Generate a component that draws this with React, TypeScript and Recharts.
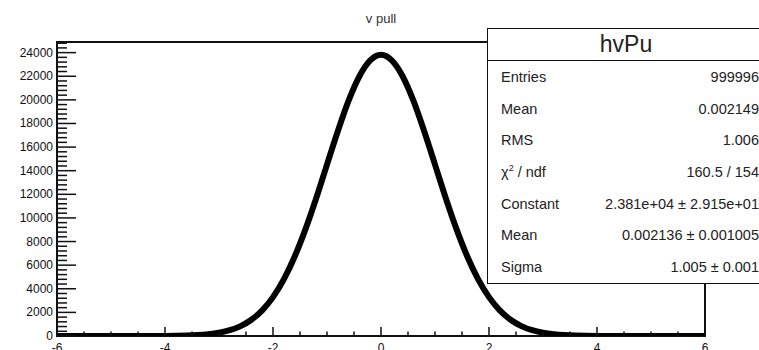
import { Line, LineChart, ReferenceArea, XAxis, YAxis } from "recharts";

// pull histogram, bin centres and counts
const pullX = [
  -6.0, -5.8, -5.6, -5.4, -5.2, -5.0, -4.8, -4.6, -4.4, -4.2, -4.0, -3.8, -3.6, -3.4, -3.2, -3.0,
  -2.8, -2.6, -2.4, -2.2, -2.0, -1.8, -1.6, -1.4, -1.2, -1.0, -0.8, -0.6, -0.4, -0.2, 0.0, 0.2,
  0.4, 0.6, 0.8, 1.0, 1.2, 1.4, 1.6, 1.8, 2.0, 2.2, 2.4, 2.6, 2.8, 3.0, 3.2, 3.4, 3.6, 3.8, 4.0,
  4.2, 4.4, 4.6, 4.8, 5.0, 5.2, 5.4, 5.6, 5.8, 6.0,
];
const pullCounts = [
  0, 0, 0, 0, 0, 0, 0, 1, 2, 4, 9, 19, 39, 78, 150, 276,
  490, 840, 1380, 2170, 3290, 4790, 6710, 9030, 11670, 14520, 17340, 19930, 22000, 23340, 23810, 23340,
  22000, 19930, 17340, 14520, 11670, 9030, 6710, 4790, 3290, 2170, 1380, 840, 490, 276, 150, 78, 39, 19, 9,
  4, 2, 1, 0, 0, 0, 0, 0, 0, 0,
];

const xMajor = [-6, -4, -2, 0, 2, 4, 6];
const xMinor = [-5.5, -5, -4.5, -3.5, -3, -2.5, -1.5, -1, -0.5, 0.5, 1, 1.5, 2.5, 3, 3.5, 4.5, 5, 5.5];
const yMajor = [0, 2000, 4000, 6000, 8000, 10000, 12000, 14000, 16000, 18000, 20000, 22000, 24000];
const yMinor = [
  400, 800, 1200, 1600, 2400, 2800, 3200, 3600, 4400, 4800, 5200, 5600, 6400, 6800, 7200, 7600,
  8400, 8800, 9200, 9600, 10400, 10800, 11200, 11600, 12400, 12800, 13200, 13600, 14400, 14800,
  15200, 15600, 16400, 16800, 17200, 17600, 18400, 18800, 19200, 19600, 20400, 20800, 21200,
  21600, 22400, 22800, 23200, 23600, 24400, 24800,
];

const statsTitle = "hvPu";
const statsRows: [string, string][] = [
  ["Entries", "999996"],
  ["Mean", "0.002149"],
  ["RMS", "1.006"],
  ["chi2", "160.5 / 154"],
  ["Constant", "2.381e+04 \u00b1 2.915e+01"],
  ["Mean", "0.002136 \u00b1 0.001005"],
  ["Sigma", "1.005 \u00b1 0.001"],
];

const data = pullX.map((x, i) => ({ x, n: pullCounts[i] }));

const FONT = '"Liberation Sans", Arial, Helvetica, sans-serif';
const INK = "#111";
const Y_TOP = 24900;

// ticks point into the frame, as in a ROOT pad; the minor axes sit 1px outside the major ones
const XMajorTick = (p: any) => (
  <g>
    <line x1={p.x} x2={p.x} y1={p.y} y2={p.y - 9} stroke={INK} strokeWidth={1.5} />
    <text x={p.x} y={p.y + 16} textAnchor="middle" fontSize={12} fontFamily={FONT} fill={INK}>
      {p.payload.value}
    </text>
  </g>
);
const XMinorTick = (p: any) => (
  <line x1={p.x} x2={p.x} y1={p.y - 1} y2={p.y - 5.5} stroke={INK} strokeWidth={1.5} />
);
const YMajorTick = (p: any) => (
  <g>
    <line x1={p.x} x2={p.x + 19} y1={p.y} y2={p.y} stroke={INK} strokeWidth={1.5} />
    <text x={p.x - 4} y={p.y + 4} textAnchor="end" fontSize={12} fontFamily={FONT} fill={INK}>
      {p.payload.value}
    </text>
  </g>
);
const YMinorTick = (p: any) => (
  <line x1={p.x + 1} x2={p.x + 11} y1={p.y} y2={p.y} stroke={INK} strokeWidth={1.5} />
);

function StatsBox() {
  return (
    <div
      style={{
        position: "absolute",
        left: 487,
        top: 28,
        width: 290,
        background: "#fff",
        border: `1.5px solid ${INK}`,
        fontFamily: FONT,
        color: "#222",
      }}
    >
      <div
        style={{
          height: 31,
          lineHeight: "31px",
          fontSize: 23,
          textAlign: "center",
          borderBottom: `1.5px solid ${INK}`,
          paddingRight: 14,
        }}
      >
        {statsTitle}
      </div>
      {statsRows.map(([label, value], i) => (
        <div
          key={i}
          style={{
            height: 31.7,
            display: "flex",
            alignItems: "center",
            justifyContent: "space-between",
            fontSize: 14.5,
            paddingLeft: 13,
            paddingRight: 19,
          }}
        >
          <span>
            {label === "chi2" ? (
              <>
                {"\u03c7"}
                <sup style={{ fontSize: 9 }}>2</sup> / ndf
              </>
            ) : (
              label
            )}
          </span>
          <span>{value}</span>
        </div>
      ))}
    </div>
  );
}

export default function App() {
  return (
    <div
      style={{
        position: "fixed",
        left: 0,
        top: 0,
        width: 759,
        height: 350,
        overflow: "hidden",
        background: "#fff",
      }}
    >
      <div
        style={{
          position: "absolute",
          left: 57,
          width: 648,
          top: 11,
          textAlign: "center",
          fontFamily: FONT,
          fontSize: 13,
          color: "#333",
        }}
      >
        v pull
      </div>
      <LineChart
        width={759}
        height={350}
        data={data}
        margin={{ top: 42, right: 54, bottom: 12, left: 55 }}
      >
        <XAxis
          xAxisId="major"
          dataKey="x"
          type="number"
          domain={[-6, 6]}
          ticks={xMajor}
          tick={<XMajorTick />}
          tickSize={0}
          tickMargin={0}
          axisLine={false}
          tickLine={false}
          height={1}
          interval={0}
        />
        <XAxis
          xAxisId="minor"
          dataKey="x"
          type="number"
          domain={[-6, 6]}
          ticks={xMinor}
          tick={<XMinorTick />}
          tickSize={0}
          tickMargin={0}
          axisLine={false}
          tickLine={false}
          height={1}
          interval={0}
        />
        <YAxis
          yAxisId="major"
          type="number"
          domain={[0, Y_TOP]}
          ticks={yMajor}
          tick={<YMajorTick />}
          tickSize={0}
          tickMargin={0}
          axisLine={false}
          tickLine={false}
          width={1}
          interval={0}
          allowDataOverflow
        />
        <YAxis
          yAxisId="minor"
          type="number"
          domain={[0, Y_TOP]}
          ticks={yMinor}
          tick={<YMinorTick />}
          tickSize={0}
          tickMargin={0}
          axisLine={false}
          tickLine={false}
          width={1}
          interval={0}
          allowDataOverflow
        />
        <ReferenceArea
          xAxisId="major"
          yAxisId="major"
          x1={-6}
          x2={6}
          y1={0}
          y2={Y_TOP}
          fill="none"
          fillOpacity={0}
          stroke={INK}
          strokeWidth={2}
        />
        <Line
          xAxisId="major"
          yAxisId="major"
          type="monotone"
          dataKey="n"
          stroke="#000"
          strokeWidth={6}
          dot={false}
          isAnimationActive={false}
        />
      </LineChart>
      <StatsBox />
    </div>
  );
}
